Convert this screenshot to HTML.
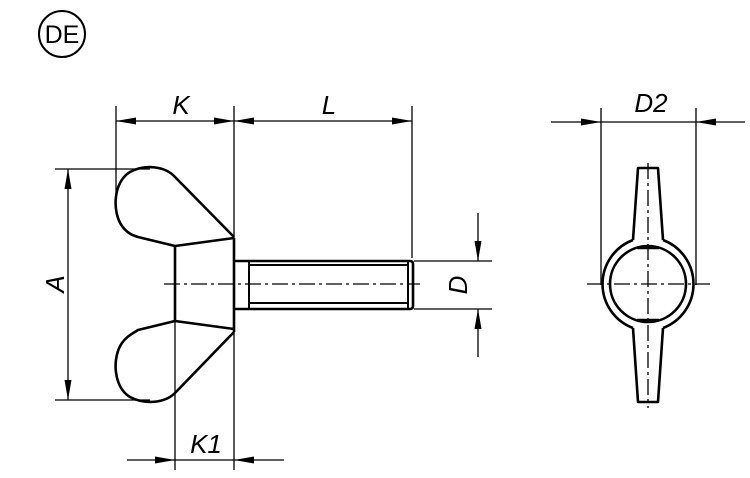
<!DOCTYPE html>
<html><head><style>body{margin:0;background:#fff}svg{display:block}text{font-family:"Liberation Sans",sans-serif;font-style:italic;fill:#000}</style></head>
<body>
<svg width="750" height="478" viewBox="0 0 750 478" xmlns="http://www.w3.org/2000/svg">
<defs>
<marker id="a" viewBox="0 0 20 8" refX="20" refY="4" markerWidth="20" markerHeight="8" markerUnits="userSpaceOnUse" orient="auto"><path d="M0,0.5 L20,4 L0,7.5 Z" fill="#000"/></marker>
</defs>
<circle cx="62" cy="34" r="23" fill="none" stroke="#000" stroke-width="2"/>
<text x="62" y="43" font-size="25" text-anchor="middle" style="font-style:normal">DE</text>

<g stroke="#000" stroke-width="1.3" fill="none">
<line x1="116" y1="106" x2="116" y2="200"/>
<line x1="234" y1="106" x2="234" y2="470"/>
<line x1="412" y1="106" x2="412" y2="258"/>
<line x1="175" y1="121" x2="116" y2="121" marker-end="url(#a)"/>
<line x1="175" y1="121" x2="234" y2="121" marker-end="url(#a)"/>
<line x1="320" y1="121" x2="234" y2="121" marker-end="url(#a)"/>
<line x1="320" y1="121" x2="412" y2="121" marker-end="url(#a)"/>
<line x1="55" y1="169" x2="150" y2="169"/>
<line x1="55" y1="400" x2="150" y2="400"/>
<line x1="68" y1="285" x2="68" y2="169" marker-end="url(#a)"/>
<line x1="68" y1="285" x2="68" y2="400" marker-end="url(#a)"/>
<line x1="175" y1="320" x2="175" y2="470"/>
<line x1="127" y1="460" x2="175" y2="460" marker-end="url(#a)"/>
<line x1="284" y1="460" x2="234" y2="460" marker-end="url(#a)"/>
<line x1="175" y1="460" x2="234" y2="460"/>
<line x1="414" y1="261" x2="492" y2="261"/>
<line x1="414" y1="309" x2="492" y2="309"/>
<line x1="478" y1="213" x2="478" y2="261" marker-end="url(#a)"/>
<line x1="478" y1="357" x2="478" y2="309" marker-end="url(#a)"/>
<line x1="601" y1="108" x2="601" y2="285"/>
<line x1="696" y1="108" x2="696" y2="285"/>
<line x1="551" y1="122" x2="601" y2="122" marker-end="url(#a)"/>
<line x1="745" y1="122" x2="696" y2="122" marker-end="url(#a)"/>
<line x1="601" y1="122" x2="696" y2="122"/>
<line x1="164" y1="284" x2="420" y2="284" stroke-dasharray="16,4,3,4"/>
<line x1="587" y1="284" x2="710" y2="284" stroke-dasharray="16,4,3,4"/>
<line x1="648" y1="163" x2="648" y2="408" stroke-dasharray="16,4,3,4"/>
</g>

<g stroke="#000" stroke-width="2.6" fill="none" stroke-linejoin="round">
<path d="M234,237 L175,177 C165,166 145,164 130,172 C113,182 112,212 122,226 C127,233 132,235 138,237 L175,246 L234,238"/>
<path d="M175,246 L175,321"/>
<line x1="234" y1="238" x2="234" y2="332"/>
<path d="M234,332 L175,393 C165,403 145,405 130,397 C113,387 112,357 122,343 C127,336 132,334 138,330 L175,321 L234,329"/>
<path d="M234,261 L410,261 Q413,261 413,264 L413,306 Q413,309 410,309 L234,309"/>
<line x1="249" y1="265" x2="408" y2="265" stroke-width="2"/>
<line x1="249" y1="303" x2="408" y2="303" stroke-width="2"/>
<line x1="249" y1="261" x2="249" y2="309" stroke-width="2"/>
<line x1="408" y1="261" x2="408" y2="309" stroke-width="2"/>
<circle cx="648" cy="284" r="38"/>
<path d="M663,240 A47,47 0 0,1 663,328"/>
<path d="M633,328 A47,47 0 0,1 633,240"/>
<path d="M637,248 L659,248 M633,240 L638,168 L658,168 L663,240"/>
<path d="M637,320 L659,320 M633,328 L638,402 L658,402 L663,328"/>
</g>

<text x="181" y="114" font-size="26" text-anchor="middle">K</text>
<text x="329" y="114" font-size="26" text-anchor="middle">L</text>
<text x="651" y="112" font-size="26" text-anchor="middle">D2</text>
<text x="206" y="453" font-size="26" text-anchor="middle">K1</text>
<text transform="translate(64,284) rotate(-90)" font-size="26" text-anchor="middle">A</text>
<text transform="translate(467,285) rotate(-90)" font-size="26" text-anchor="middle">D</text>
</svg>
</body></html>
